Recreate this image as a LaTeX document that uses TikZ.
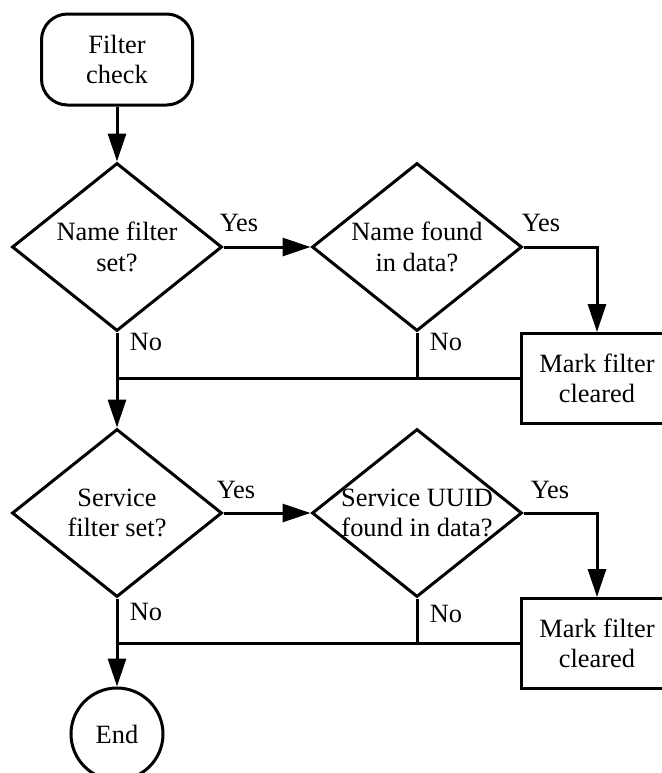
\documentclass[tikz,border=0pt]{standalone}
\usepackage{fontspec}
\setmainfont{Liberation Serif}
\usetikzlibrary{shapes.geometric,arrows.meta}
\tikzset{
	flow/.style={line width=1.5pt, -{Triangle[length=14pt,width=9pt]}},
	link/.style={line width=1.5pt},
	decision/.style={diamond, draw, line width=1.5pt, inner sep=0pt, minimum width=105pt, minimum height=84pt},
	process/.style={rectangle, draw, line width=1.5pt, align=center, minimum width=76pt, minimum height=45pt},
	terminal/.style={rectangle, draw, line width=1.5pt, align=center, rounded corners=13pt, minimum width=75.5pt, minimum height=45.5pt},
	endpoint/.style={circle, draw, line width=1.5pt, minimum size=46pt, inner sep=0pt}
}

\begin{document}
\begin{tikzpicture}[x=0.5pt, y=-0.5pt, every node/.style={font=\fontsize{13.2}{15.3}\selectfont}]
			\useasboundingbox (0,0) rectangle (662,773);
			\node[terminal] (start) at (117,59.5) {Filter\\check};
			\node[decision, label={[align=center]center:{Name filter\\set?}}] (namefilter) at (117,247) {};
			\node[decision, label={[align=center]center:{Name found\\in data?}}] (namefound) at (417,247) {};
			\node[process] (markone) at (597,378.5) {Mark filter\\cleared};
			\node[decision, label={[align=center]center:{Service\\filter set?}}] (svcfilter) at (117,513) {};
			\node[decision, label={[align=center]center:{Service UUID\\found in data?}}] (svcfound) at (417,513) {};
			\node[process] (marktwo) at (597,643.5) {Mark filter\\cleared};
			\node[endpoint] (stop) at (117,734) {End};
			\node (yesone) at (239,223) {Yes};
			\node (yestwo) at (541,223) {Yes};
			\node (noone) at (146,342) {No};
			\node (notwo) at (446,342) {No};
			\node (yesthree) at (236,490) {Yes};
			\node (yesfour) at (550,490) {Yes};
			\node (nothree) at (146,612) {No};
			\node (nofour) at (446,614) {No};
			\draw[flow] (start) -- (namefilter.north);
			\draw[flow] (namefilter.east) -- (namefound.west);
			\draw[flow] (namefound.east) -| (markone.north);
			\draw[link] (namefound.south) -- (namefound.south |- markone.west);
			\draw[link] (markone.west) -- (markone.west -| namefilter.south);
			\draw[flow] (namefilter.south) -- (svcfilter.north);
			\draw[flow] (svcfilter.east) -- (svcfound.west);
			\draw[flow] (svcfound.east) -| (marktwo.north);
			\draw[link] (svcfound.south) -- (svcfound.south |- marktwo.west);
			\draw[link] (marktwo.west) -- (marktwo.west -| svcfilter.south);
			\draw[flow] (svcfilter.south) -- (stop.north);
		\end{tikzpicture}
\end{document}
